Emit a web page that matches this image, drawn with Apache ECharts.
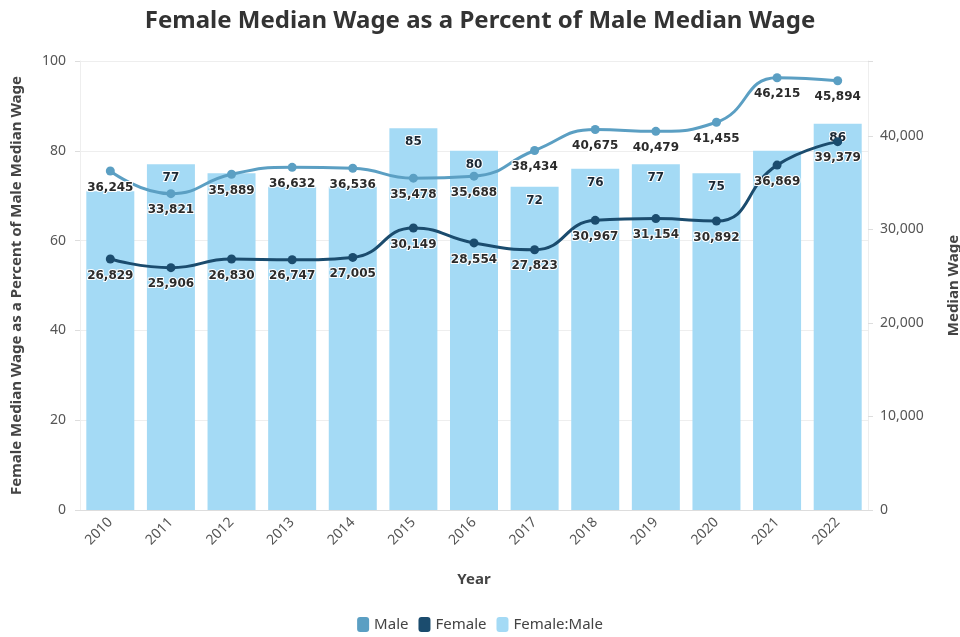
<!DOCTYPE html>
<html>
<head>
<meta charset="utf-8">
<script src="https://cdn.jsdelivr.net/npm/echarts@6/dist/echarts.min.js"></script>
<style>
  html, body { margin: 0; padding: 0; background: #fff; }
  #chart { width: 960px; height: 637px; }
</style>
</head>
<body>
<div id="chart"></div>
<script>
// data
var years = ["2010", "2011", "2012", "2013", "2014", "2015", "2016", "2017", "2018", "2019", "2020", "2021", "2022"];
var male = [36245, 33821, 35889, 36632, 36536, 35478, 35688, 38434, 40675, 40479, 41455, 46215, 45894];
var female = [26829, 25906, 26830, 26747, 27005, 30149, 28554, 27823, 30967, 31154, 30892, 36869, 39379];
var ratio = [71, 77, 75, 72, 72, 85, 80, 72, 76, 77, 75, 80, 86];
// bar labels that are covered by line labels in the original
var hiddenRatioLabels = ["2010", "2012", "2013", "2014", "2021"];

var maleColor = "#5b9fc3";
var femaleColor = "#1b4c6e";
var barColor = "#a4daf5";

var myChart = echarts.init(document.getElementById("chart"));

var lineLabel = {
  show: true,
  position: "bottom",
  distance: 6,
  fontFamily: "DejaVu Sans",
  fontWeight: "bold",
  fontSize: 12,
  color: "#2b2b2b",
  textBorderColor: "#fff",
  textBorderWidth: 2,
  formatter: function (p) { return p.value.toLocaleString("en-US"); }
};

var ratioData = ratio.map(function (v, i) {
  return {
    value: v,
    label: { show: hiddenRatioLabels.indexOf(years[i]) < 0 }
  };
});

var option = {
  animation: false,
  textStyle: { fontFamily: "Noto Sans" },
  title: {
    text: "Female Median Wage as a Percent of Male Median Wage",
    left: "center",
    top: 4,
    textStyle: { fontFamily: "Noto Sans", fontWeight: "bold", fontSize: 24, color: "#333" }
  },
  legend: {
    bottom: 0,
    left: "center",
    itemWidth: 12,
    itemHeight: 15,
    itemGap: 10,
    icon: "roundRect",
    textStyle: { fontFamily: "Noto Sans", fontSize: 15, color: "#444" },
    data: ["Male", "Female", "Female:Male"]
  },
  grid: { left: 80, right: 92, top: 61, bottom: 127, outerBoundsMode: "none" },
  xAxis: {
    type: "category",
    data: years,
    name: "Year",
    nameLocation: "middle",
    nameGap: 62,
    nameTextStyle: { fontFamily: "Noto Sans", fontWeight: "bold", fontSize: 15, color: "#444" },
    axisLine: { lineStyle: { color: "#ddd" } },
    axisTick: { alignWithLabel: true, lineStyle: { color: "#ddd" } },
    axisLabel: { rotate: 45, fontSize: 14, color: "#555", margin: 10, interval: 0 }
  },
  yAxis: [
    {
      type: "value",
      min: 0,
      max: 100,
      interval: 20,
      name: "Female Median Wage as a Percent of Male Median Wage",
      nameLocation: "middle",
      nameGap: 56,
      nameTextStyle: { fontFamily: "Noto Sans", fontWeight: "bold", fontSize: 15, color: "#444" },
      axisLine: { show: true, lineStyle: { color: "#eee" } },
      axisTick: { show: true, lineStyle: { color: "#ddd" } },
      axisLabel: { fontSize: 14, color: "#555", margin: 14 },
      splitLine: { lineStyle: { color: "#eee" } }
    },
    {
      type: "value",
      min: 0,
      max: 48000,
      interval: 10000,
      name: "Median Wage",
      nameLocation: "middle",
      nameGap: 78,
      nameRotate: 90,
      nameTextStyle: { fontFamily: "Noto Sans", fontWeight: "bold", fontSize: 15, color: "#444" },
      axisLine: { show: true, lineStyle: { color: "#eee" } },
      axisTick: { show: true, lineStyle: { color: "#ddd" } },
      axisLabel: {
        fontSize: 14, color: "#555", margin: 12,
        formatter: function (v) { return v > 40000 ? "" : v.toLocaleString("en-US"); }
      },
      splitLine: { show: false }
    }
  ],
  series: [
    {
      name: "Female:Male",
      type: "bar",
      yAxisIndex: 0,
      barWidth: 48,
      data: ratioData,
      itemStyle: { color: barColor },
      label: {
        position: "insideTop",
        distance: 8,
        fontFamily: "DejaVu Sans",
        fontWeight: "bold",
        fontSize: 12,
        color: "#1a2733",
        textBorderColor: "#fff",
        textBorderWidth: 2
      },
      z: 1
    },
    {
      name: "Male",
      type: "line",
      yAxisIndex: 1,
      data: male,
      smooth: 0.5,
      symbol: "circle",
      symbolSize: 9,
      lineStyle: { color: maleColor, width: 3 },
      itemStyle: { color: maleColor },
      label: lineLabel,
      z: 3
    },
    {
      name: "Female",
      type: "line",
      yAxisIndex: 1,
      data: female,
      smooth: 0.5,
      symbol: "circle",
      symbolSize: 9,
      lineStyle: { color: femaleColor, width: 3 },
      itemStyle: { color: femaleColor },
      label: lineLabel,
      z: 3
    }
  ]
};

myChart.setOption(option);
</script>
</body>
</html>
